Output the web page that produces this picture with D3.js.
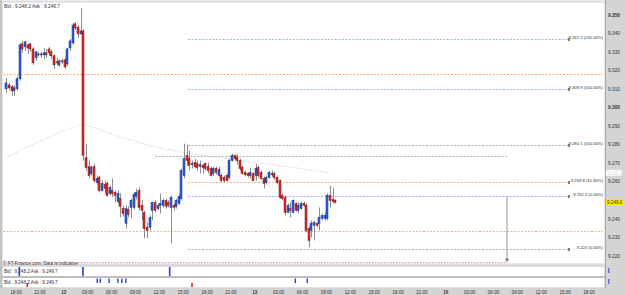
<!DOCTYPE html>
<html>
<head>
<meta charset="utf-8">
<script src="https://d3js.org/d3.v7.min.js"></script>
<style>
  html, body { margin: 0; padding: 0; background: #ffffff; }
  svg { display: block; font-family: "Liberation Sans", Arial, sans-serif; }
</style>
</head>
<body>
<script>
// 20-minute candles, bar k sits at hour (-4/3 + k/3) counted from 11th 18:00
var opens = [9.3102,9.3123,9.3113,9.3091,9.3102,9.3156,9.3344,9.3328,9.3339,9.3344,
  9.3317,9.3269,9.3290,9.3285,9.3285,9.3296,9.3317,9.3301,9.3280,9.3247,
  9.3231,9.3253,9.3258,9.3236,9.3322,9.3349,9.3452,9.3435,9.3398,9.3414,
  9.2731,9.2682,9.2645,9.2682,9.2596,9.2623,9.2553,9.2586,9.2591,9.2537,
  9.2553,9.2543,9.2494,9.2510,9.2456,9.2376,9.2451,9.2462,9.2462,9.2521,
  9.2553,9.2473,9.2435,9.2354,9.2354,9.2446,9.2489,9.2456,9.2473,9.2473,
  9.2500,9.2489,9.2462,9.2473,9.2467,9.2483,9.2510,9.2634,9.2742,9.2725,
  9.2693,9.2704,9.2698,9.2682,9.2688,9.2698,9.2682,9.2672,9.2645,9.2672,
  9.2634,9.2634,9.2623,9.2634,9.2623,9.2715,9.2742,9.2731,9.2715,9.2677,
  9.2650,9.2645,9.2634,9.2645,9.2634,9.2677,9.2650,9.2618,9.2596,9.2623,
  9.2639,9.2645,9.2623,9.2607,9.2527,9.2516,9.2435,9.2456,9.2435,9.2483,
  9.2446,9.2456,9.2483,9.2473,9.2349,9.2338,9.2365,9.2376,9.2376,9.2403,
  9.2403,9.2403,9.2527,9.2505,9.2500];
var highs = [9.3161,9.3134,9.3123,9.3118,9.3166,9.3349,9.3360,9.3360,9.3344,9.3349,
  9.3328,9.3306,9.3301,9.3301,9.3322,9.3317,9.3328,9.3312,9.3285,9.3269,
  9.3258,9.3263,9.3269,9.3322,9.3371,9.3457,9.3462,9.3446,9.3538,9.3425,
  9.2806,9.2715,9.2688,9.2698,9.2634,9.2634,9.2607,9.2607,9.2602,9.2580,
  9.2618,9.2553,9.2553,9.2537,9.2473,9.2473,9.2467,9.2510,9.2543,9.2564,
  9.2569,9.2500,9.2446,9.2381,9.2419,9.2489,9.2500,9.2483,9.2537,9.2510,
  9.2510,9.2500,9.2527,9.2483,9.2510,9.2532,9.2672,9.2806,9.2801,9.2768,
  9.2715,9.2725,9.2715,9.2715,9.2698,9.2704,9.2704,9.2682,9.2682,9.2682,
  9.2682,9.2645,9.2634,9.2645,9.2725,9.2752,9.2747,9.2747,9.2725,9.2688,
  9.2661,9.2650,9.2677,9.2650,9.2698,9.2688,9.2661,9.2629,9.2634,9.2661,
  9.2661,9.2655,9.2634,9.2612,9.2537,9.2527,9.2483,9.2489,9.2505,9.2489,
  9.2489,9.2494,9.2494,9.2483,9.2360,9.2392,9.2392,9.2381,9.2462,9.2430,
  9.2435,9.2537,9.2580,9.2569,9.2505];
var lows = [9.3080,9.3097,9.3064,9.3064,9.3091,9.3145,9.3296,9.3306,9.3290,9.3301,
  9.3231,9.3253,9.3274,9.3269,9.3263,9.3269,9.3280,9.3263,9.3210,9.3226,
  9.3220,9.3236,9.3210,9.3226,9.3306,9.3339,9.3419,9.3376,9.3392,9.2715,
  9.2661,9.2618,9.2634,9.2596,9.2586,9.2543,9.2548,9.2537,9.2521,9.2527,
  9.2516,9.2489,9.2483,9.2408,9.2413,9.2349,9.2408,9.2403,9.2451,9.2505,
  9.2446,9.2392,9.2295,9.2295,9.2338,9.2392,9.2435,9.2446,9.2430,9.2462,
  9.2456,9.2462,9.2268,9.2446,9.2456,9.2473,9.2500,9.2618,9.2688,9.2661,
  9.2672,9.2672,9.2661,9.2645,9.2645,9.2661,9.2645,9.2629,9.2634,9.2639,
  9.2629,9.2596,9.2596,9.2602,9.2612,9.2709,9.2715,9.2693,9.2661,9.2639,
  9.2629,9.2623,9.2618,9.2602,9.2607,9.2623,9.2612,9.2564,9.2586,9.2618,
  9.2629,9.2612,9.2586,9.2510,9.2500,9.2419,9.2430,9.2408,9.2430,9.2440,
  9.2430,9.2451,9.2467,9.2327,9.2247,9.2300,9.2284,9.2354,9.2338,9.2392,
  9.2392,9.2392,9.2462,9.2483,9.2483];
var closes = [9.3134,9.3107,9.3091,9.3107,9.3156,9.3339,9.3317,9.3355,9.3322,9.3317,
  9.3242,9.3301,9.3285,9.3290,9.3296,9.3285,9.3296,9.3280,9.3231,9.3242,
  9.3253,9.3247,9.3220,9.3317,9.3360,9.3446,9.3430,9.3398,9.3414,9.2742,
  9.2677,9.2634,9.2677,9.2607,9.2618,9.2553,9.2591,9.2564,9.2527,9.2569,
  9.2537,9.2527,9.2537,9.2467,9.2430,9.2456,9.2424,9.2500,9.2532,9.2543,
  9.2462,9.2446,9.2349,9.2338,9.2408,9.2489,9.2446,9.2473,9.2483,9.2500,
  9.2467,9.2473,9.2516,9.2462,9.2500,9.2521,9.2661,9.2725,9.2715,9.2688,
  9.2698,9.2682,9.2677,9.2693,9.2677,9.2672,9.2661,9.2634,9.2672,9.2650,
  9.2666,9.2607,9.2607,9.2607,9.2715,9.2742,9.2725,9.2715,9.2672,9.2645,
  9.2639,9.2634,9.2650,9.2607,9.2672,9.2634,9.2618,9.2591,9.2623,9.2650,
  9.2645,9.2623,9.2596,9.2516,9.2510,9.2435,9.2473,9.2446,9.2500,9.2446,
  9.2473,9.2483,9.2473,9.2338,9.2284,9.2376,9.2381,9.2365,9.2408,9.2419,
  9.2419,9.2527,9.2500,9.2494,9.2490];

// slow moving average, read at a few bars
var maBars = [0, 6, 14, 22, 29, 36, 43, 51, 58, 66, 73, 84, 95, 107, 122];
var maValues = [9.2729, 9.2772, 9.2826, 9.2875, 9.2912, 9.2880, 9.2842, 9.2810,
  9.2783, 9.2761, 9.2745, 9.2724, 9.2702, 9.2681, 9.2648];

// fibonacci levels
var fibPrices = [9.3372, 9.3099, 9.2801, 9.2598, 9.2523, 9.2240];
var fibLabels = ["9.337.2 (200.00%)", "9.309.9 (100.00%)", "9.280.1 (100.00%)",
  "9.259.8 (61.80%)", "9.252.3 (0.00%)", "9.224 (0.00%)"];
var fibKinds = ["blue", "blue", "gray", "orange", "blue", "gray"];
var wideLevels = [9.3182, 9.2336];
var grayLevel = 9.2740;
var targetLevel = 9.2168;

// price axis
var priceTicks = [9.350, 9.340, 9.330, 9.320, 9.310, 9.300, 9.290, 9.280, 9.270,
  9.260, 9.240, 9.230, 9.220];
var bidLabel = "9.249.0";
var askLabel = "9.265.0";
var lastPrice = 9.2490;
var askPrice = 9.2648;

// time axis (hours from 11th 18:00, weekend removed)
var timeHours = [0,3,6,9,12,15,18,21,24,27,30,33,36,39,42,45,48,51,54,57,60,63,66,69,72];
var timeLabels = ["18:00","21:00","12","03:00","06:00","09:00","12:00","15:00","18:00","21:00",
  "13","03:00","06:00","09:00","12:00","15:00","18:00","21:00","16","03:00","06:00","09:00",
  "12:00","15:00","18:00"];

// signal panels (hours)
var signal1 = [0.4, 8.4, 19.3];
var signal2Up = [10.2, 10.6, 11.7, 12.8, 13.3, 13.8, 35.1, 36.6];
var signal2Down = [1.4, 22.1];

var W = 625, H = 295;
var svg = d3.select("body").append("svg").attr("width", W).attr("height", H);

var plotL = 2, plotR = 605, plotT = 2, plotB = 264;
var x = d3.scaleLinear().domain([0, 72]).range([16, 589]);
var y = d3.scaleLinear().domain([9.220, 9.350]).range([256, 15]);
function barHour(k) { return -4 / 3 + k / 3; }

// backgrounds
svg.append("rect").attr("width", W).attr("height", H).attr("fill", "#ececec");
svg.append("rect").attr("x", plotL).attr("y", plotT).attr("width", plotR - plotL).attr("height", plotB - plotT)
  .attr("fill", "#fff").attr("stroke", "#c8c8c8").attr("stroke-width", 0.8);
svg.append("line").attr("x1", 1).attr("x2", 1).attr("y1", 0).attr("y2", 288)
  .attr("stroke", "#b8b8b8").attr("stroke-width", 1.5);

var colors = { blue: "#93ace8", gray: "#a0a0a0", orange: "#f5a77c" };

// full width orange levels
wideLevels.forEach(function(p) {
  svg.append("line").attr("x1", plotL + 1).attr("x2", plotR - 2)
    .attr("y1", Math.round(y(p)) + 0.5).attr("y2", Math.round(y(p)) + 0.5)
    .attr("stroke", colors.orange).attr("stroke-dasharray", "2,1.5").attr("stroke-width", 0.9);
});

// gray level
svg.append("line").attr("x1", x(17.5)).attr("x2", x(61.7))
  .attr("y1", Math.round(y(grayLevel)) + 0.5).attr("y2", Math.round(y(grayLevel)) + 0.5)
  .attr("stroke", "#a8a8a8").attr("stroke-dasharray", "2,1.5").attr("stroke-width", 0.9);

// fib levels
var fibEnd = 569;
fibPrices.forEach(function(p, i) {
  var yy = Math.round(y(p)) + 0.5;
  svg.append("line").attr("x1", x(21.6)).attr("x2", fibEnd).attr("y1", yy).attr("y2", yy)
    .attr("stroke", colors[fibKinds[i]]).attr("stroke-dasharray", "2,1.5").attr("stroke-width", 0.9);
  svg.append("rect").attr("x", fibEnd - 1).attr("y", yy - 1.5).attr("width", 2).attr("height", 3)
    .attr("fill", "#8a7a60");
  svg.append("text").attr("x", 603).attr("y", yy - 0.5).attr("text-anchor", "end")
    .attr("font-size", 4.2).attr("fill", "#333").text(fibLabels[i]);
});

// target line and arrow
var ty = Math.round(y(targetLevel)) + 0.5;
svg.append("line").attr("x1", plotL + 1).attr("x2", x(61.7)).attr("y1", ty).attr("y2", ty)
  .attr("stroke", "#f09090").attr("stroke-dasharray", "1.5,1.5").attr("stroke-width", 0.9);
svg.append("line").attr("x1", x(61.7)).attr("x2", x(61.7))
  .attr("y1", y(fibPrices[4])).attr("y2", ty - 3)
  .attr("stroke", "#9a9a9a").attr("stroke-width", 1);
svg.append("path")
  .attr("d", "M" + (x(61.7) - 2) + "," + (ty - 4) + "L" + (x(61.7) + 2) + "," + (ty - 4) + "L" + x(61.7) + "," + ty + "Z")
  .attr("fill", "#777");

// moving average
svg.append("path")
  .datum(maBars.map(function(k, i) { return [x(barHour(k)), y(maValues[i])]; }))
  .attr("d", d3.line())
  .attr("fill", "none").attr("stroke", "#cfcfcf").attr("stroke-width", 0.9)
  .attr("stroke-dasharray", "1.5,1.5");

// candles
var candles = opens.map(function(o, k) {
  return { k: k, o: o, h: highs[k], l: lows[k], c: closes[k] };
});
var g = svg.append("g");
g.selectAll("line.wick").data(candles).enter().append("line")
  .attr("x1", function(d) { return Math.round(x(barHour(d.k))) + 1.5; })
  .attr("x2", function(d) { return Math.round(x(barHour(d.k))) + 1.5; })
  .attr("y1", function(d) { return y(d.h); })
  .attr("y2", function(d) { return y(d.l); })
  .attr("stroke", "#8c8c8c").attr("stroke-width", 1);
g.selectAll("rect.body").data(candles).enter().append("rect")
  .attr("x", function(d) { return Math.round(x(barHour(d.k))); })
  .attr("width", 2)
  .attr("y", function(d) { return y(Math.max(d.o, d.c)); })
  .attr("height", function(d) { return Math.max(1, Math.abs(y(d.o) - y(d.c))); })
  .attr("fill", function(d) { return d.c >= d.o ? "#2f62dc" : "#e02a2a"; })
  .attr("stroke", function(d) { return d.c >= d.o ? "#142f78" : "#7a1010"; })
  .attr("stroke-width", 0.5);

// header texts
svg.append("text").attr("x", 4).attr("y", 7.5).attr("font-size", 4.8).attr("fill", "#333")
  .text("Bid : 9.248.2 Ask : 9.249.7");
svg.append("text").attr("x", 3).attr("y", 264.5).attr("font-size", 4.6).attr("fill", "#444")
  .text("© FT-Finance.com: Data is indicative");

// signal panels
svg.append("rect").attr("x", plotL).attr("y", 266).attr("width", plotR - plotL).attr("height", 10.5)
  .attr("fill", "#fff").attr("stroke", "#b0b0b0").attr("stroke-width", 0.8);
svg.append("rect").attr("x", plotL).attr("y", 277.5).attr("width", plotR - plotL).attr("height", 10.5)
  .attr("fill", "#fff").attr("stroke", "#b0b0b0").attr("stroke-width", 0.8);
svg.append("text").attr("x", 4).attr("y", 272.5).attr("font-size", 4.6).attr("fill", "#333")
  .text("Bid : 9.248.2 Ask : 9.249.7");
svg.append("text").attr("x", 4).attr("y", 283.5).attr("font-size", 4.6).attr("fill", "#333")
  .text("Bid : 9.248.2 Ask : 9.249.7");
signal1.forEach(function(h) {
  svg.append("rect").attr("x", x(h) - 0.7).attr("y", 267).attr("width", 1.6).attr("height", 9)
    .attr("fill", "#2a3ddc");
});
signal2Up.forEach(function(h) {
  svg.append("rect").attr("x", x(h) - 0.7).attr("y", 278.5).attr("width", 1.4).attr("height", 4.5)
    .attr("fill", "#2a3ddc");
});
signal2Down.forEach(function(h) {
  svg.append("rect").attr("x", x(h) - 0.7).attr("y", 283).attr("width", 1.6).attr("height", 4)
    .attr("fill", "#e02020");
});

// right price axis
svg.append("rect").attr("x", plotR).attr("y", 0).attr("width", W - plotR).attr("height", 288)
  .attr("fill", "#d4d4d4");
svg.append("line").attr("x1", plotR + 0.5).attr("x2", plotR + 0.5).attr("y1", 0).attr("y2", 288)
  .attr("stroke", "#a8a8a8").attr("stroke-width", 1);
svg.append("g").selectAll("text").data(priceTicks).enter().append("text")
  .attr("x", 608).attr("y", function(d) { return y(d) + 1.6; })
  .attr("font-size", 4.8)
  .attr("font-weight", function(d) { return Math.round(d * 1000) % 50 === 0 ? "bold" : "normal"; })
  .attr("fill", "#333")
  .text(function(d) { return d3.format(".3f")(d); });
// ask box
svg.append("rect").attr("x", 606).attr("y", y(askPrice) - 3).attr("width", 16).attr("height", 6)
  .attr("fill", "#ffffff").attr("stroke", "#e0e0e0").attr("stroke-width", 0.5);
svg.append("text").attr("x", 607).attr("y", y(askPrice) + 1.6).attr("font-size", 4.6)
  .attr("fill", "#dcdcdc").text(askLabel);
// bid box
svg.append("rect").attr("x", 606).attr("y", y(lastPrice) - 3).attr("width", 17).attr("height", 6)
  .attr("fill", "#ffe600");
svg.append("text").attr("x", 607).attr("y", y(lastPrice) + 1.6).attr("font-size", 4.6)
  .attr("fill", "#333").text(bidLabel);
// tiny panel scale marks
[268, 279].forEach(function(t) {
  svg.append("rect").attr("x", 608).attr("y", t).attr("width", 1.5).attr("height", 5).attr("fill", "#5a6ee0");
});

// time axis
svg.append("rect").attr("x", 0).attr("y", 288).attr("width", W).attr("height", 7).attr("fill", "#d4d4d4");
svg.append("g").selectAll("text").data(timeHours).enter().append("text")
  .attr("x", function(d) { return x(d); })
  .attr("y", 294)
  .attr("text-anchor", "middle")
  .attr("font-size", 4.6)
  .attr("font-weight", function(d, i) { return timeLabels[i].length < 3 ? "bold" : "normal"; })
  .attr("fill", "#333")
  .text(function(d, i) { return timeLabels[i]; });
</script>
</body>
</html>
